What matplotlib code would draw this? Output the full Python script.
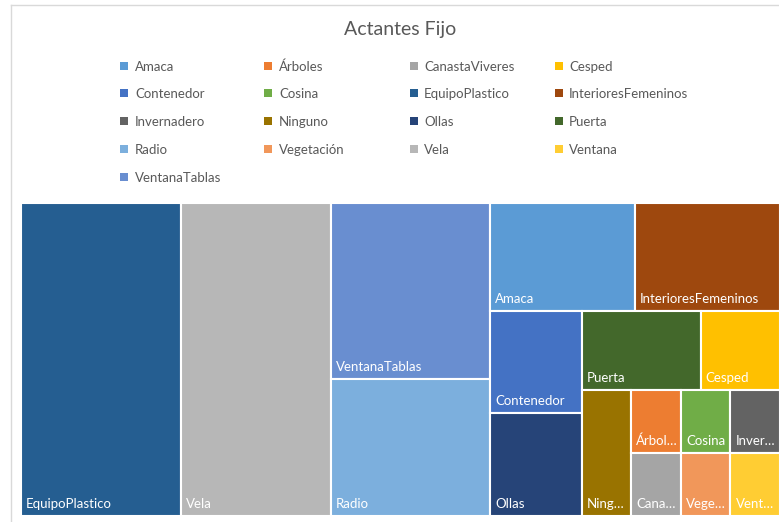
import matplotlib
matplotlib.use("Agg")
import matplotlib.pyplot as plt
from matplotlib.patches import Rectangle
from matplotlib.lines import Line2D

plt.rcParams['font.family'] = ['Lato', 'DejaVu Sans']

# ---- data ----
categories = ["Amaca", "Árboles", "CanastaViveres", "Cesped", "Contenedor", "Cosina",
              "EquipoPlastico", "InterioresFemeninos", "Invernadero", "Ninguno", "Ollas",
              "Puerta", "Radio", "Vegetación", "Vela", "Ventana", "VentanaTablas"]
values = [5, 1, 1, 2, 3, 1, 16, 5, 1, 2, 3, 3, 7, 1, 15, 1, 9]
colors = ["#5B9BD5", "#ED7D31", "#A5A5A5", "#FFC000", "#4472C4", "#70AD47",
          "#255E91", "#9E480E", "#636363", "#997300", "#264478", "#43682B",
          "#7CAFDD", "#F1975A", "#B7B7B7", "#FFCD33", "#698ED0"]
title = "Actantes Fijo"

val = dict(zip(categories, values))
col = dict(zip(categories, colors))

# layout structure (h = side by side, v = stacked top to bottom)
layout = ('h', [
    "EquipoPlastico",
    "Vela",
    ('v', ["VentanaTablas", "Radio"]),
    ('v', [
        ('h', ["Amaca", "InterioresFemeninos"]),
        ('h', [
            ('v', ["Contenedor", "Ollas"]),
            ('v', [
                ('h', ["Puerta", "Cesped"]),
                ('h', [
                    "Ninguno",
                    ('v', [
                        ('h', ["Árboles", "Cosina", "Invernadero"]),
                        ('h', ["CanastaViveres", "Vegetación", "Ventana"]),
                    ]),
                ]),
            ]),
        ]),
    ]),
])


def total(node):
    if isinstance(node, str):
        return val[node]
    return sum(total(c) for c in node[1])


rects = []


def place(node, x, y, w, h):
    if isinstance(node, str):
        rects.append((node, x, y, w, h))
        return
    kind, children = node
    t = total(node)
    if kind == 'h':
        cx = x
        for c in children:
            cw = w * total(c) / t
            place(c, cx, y, cw, h)
            cx += cw
    else:
        cy = y + h
        for c in children:
            ch = h * total(c) / t
            cy -= ch
            place(c, x, cy, w, ch)


place(layout, 0, 0, 1, 1)

W, H = 779, 522
fig = plt.figure(figsize=(W / 100, H / 100), dpi=100)
fig.patch.set_facecolor("white")

# chart border
fig.add_artist(Line2D([11 / W, 11 / W], [1 - 5 / H, 0], transform=fig.transFigure, color="#D9D9D9", lw=1))
fig.add_artist(Line2D([11 / W, 1], [1 - 5 / H, 1 - 5 / H], transform=fig.transFigure, color="#D9D9D9", lw=1))

fig.text(400 / W, 1 - 29 / H, title, ha="center", va="center", fontsize=14, color="#595959")

# legend
col_marker_x = [120, 264, 410, 555]
col_text_x = [135, 279, 424, 569]
row_y = [66, 93, 121, 149, 177]
for i, name in enumerate(categories):
    r, c = divmod(i, 4)
    yc = row_y[r]
    fig.add_artist(Rectangle((col_marker_x[c] / W, 1 - (yc + 4) / H), 8 / W, 8 / H,
                             transform=fig.transFigure, facecolor=col[name], edgecolor="none"))
    fig.text(col_text_x[c] / W, 1 - (yc + 1) / H, name, ha="left", va="center", fontsize=9.5, color="#595959")

ax = fig.add_axes([21 / W, 1 - 516 / H, 759 / W, 313 / H])
ax.set_xlim(0, 1)
ax.set_ylim(0, 1)
ax.axis("off")

texts = []
for name, x, y, w, h in rects:
    ax.add_patch(Rectangle((x, y), w, h, facecolor=col[name], edgecolor="white", lw=1.5))
    t = ax.annotate(name, (x, y), xytext=(5, 6), textcoords="offset pixels",
                    ha="left", va="bottom", fontsize=9.5, color="white")
    texts.append((t, name, w))

fig.canvas.draw()
renderer = fig.canvas.get_renderer()
axw_px = ax.get_window_extent().width
for t, name, w in texts:
    avail = w * axw_px - 7
    if t.get_window_extent(renderer).width > avail:
        n = len(name)
        while n > 1:
            n -= 1
            t.set_text(name[:n] + "…")
            if t.get_window_extent(renderer).width <= avail:
                break

fig.savefig("out.png", dpi=100)
